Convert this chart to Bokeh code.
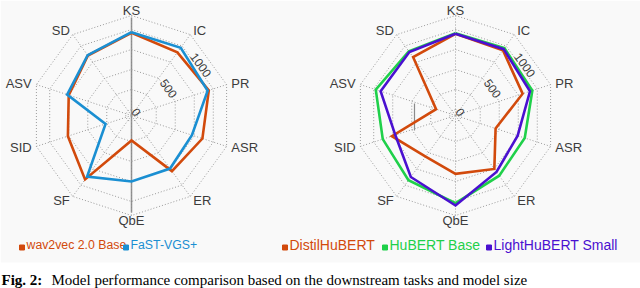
import numpy as np
from bokeh.plotting import figure
from bokeh.models import Range1d
from bokeh.embed import file_html
from bokeh.resources import INLINE
from bokeh.core.properties import value

# ---------------- data ----------------
tasks = ["KS", "IC", "PR", "ASR", "ER", "QbE", "SF", "SID", "ASV", "SD"]
wav2vec2_base = [959, 900, 941, 857, 785, 237, 913, 761, 750, 852]
fast_vgs_plus = [966, 972, 926, 719, 745, 750, 869, 266, 771, 857]
distilhubert = [946, 933, 807, 452, 751, 654, 560, 761, 180, 826]
hubert_base = [954, 966, 935, 835, 855, 1021, 925, 881, 973, 918]
lighthubert_small = [946, 950, 904, 742, 797, 1050, 875, 716, 909, 906]
ring_values = [0, 250, 500, 750, 1000, 1175]
tick_values = [0, 500, 1000]
tick_labels = ["0", "500", "1000"]
left_names = ["wav2vec 2.0 Base", "FaST-VGS+"]
right_names = ["DistilHuBERT", "HuBERT Base", "LightHuBERT Small"]

C_ORANGE = "#d24a0c"
C_BLUE = "#1a8fd2"
C_GREEN = "#1fd04a"
C_PURPLE = "#4a10d0"
TXT = "#3c3c3c"
GRID = "#9a9a9a"

W, H = 640, 288
p = figure(width=W, height=H, x_range=Range1d(0, W), y_range=Range1d(0, H),
           output_backend="svg", toolbar_location=None, min_border=0)
p.axis.visible = False
p.grid.visible = False
p.outline_line_color = None
p.background_fill_color = "white"
p.border_fill_color = "white"

def Y(py):
    return H - py

# light gray panel behind the charts
p.quad(left=0, right=W, top=Y(0), bottom=Y(262), fill_color="#f9f9f9", line_color=None)

R0, K = 6.0, 0.08
R_OUT = 100.0
R_LAB = 105.0
n = len(tasks)
theta = np.deg2rad(90 - 36 * np.arange(n))

def rad(v):
    return R0 + K * np.asarray(v, dtype=float)

def poly(cx, cy, vals):
    r = rad(vals)
    xs = cx + r * np.cos(theta)
    ys = Y(cy) + r * np.sin(theta)
    return list(xs) + [xs[0]], list(ys) + [ys[0]]

def radar(cx, cy, series, colors):
    for rv in ring_values:
        r = R0 + K * rv if rv < ring_values[-1] else R_OUT
        xs = cx + r * np.cos(theta)
        ys = Y(cy) + r * np.sin(theta)
        p.line(list(xs) + [xs[0]], list(ys) + [ys[0]], line_color=GRID,
               line_dash="1 2", line_width=1)
    for t in theta:
        p.line([cx, cx + R_OUT * np.cos(t)], [Y(cy), Y(cy) + R_OUT * np.sin(t)],
               line_color=GRID, line_dash="1 2", line_width=1)
    for lab, t in zip(tasks, theta):
        c, s = np.cos(t), np.sin(t)
        align = "left" if c > 0.2 else ("right" if c < -0.2 else "center")
        p.text([cx + R_LAB * c], [Y(cy) + R_LAB * s], text=[lab], text_align=align,
               text_baseline="middle", text_font=value("Liberation Sans"),
               text_font_size="13px", text_color=TXT)
    ta = np.deg2rad(36)
    for tv, tl in zip(tick_values, tick_labels):
        r = R0 + K * tv
        p.text([cx + r * np.cos(ta)], [Y(cy) + r * np.sin(ta)], text=[tl],
               angle=np.deg2rad(-54), text_align="center", text_baseline="middle",
               text_font=value("Liberation Sans"), text_font_size="12px", text_color=TXT)
    for vals, col in zip(series, colors):
        xs, ys = poly(cx, cy, vals)
        p.line(xs, ys, line_color=col, line_width=2.6, line_join="miter")

LCX, RCX, CY = 131, 455, 115
p.line([LCX, LCX], [Y(17), Y(212)], line_color="#8a8a8a", line_width=1.5)
p.line([414, 414], [Y(103), Y(130)], line_color="#8a8a8a", line_width=1.2)

radar(LCX, CY, [wav2vec2_base, fast_vgs_plus], [C_ORANGE, C_BLUE])
radar(RCX, CY, [distilhubert, hubert_base, lighthubert_small], [C_ORANGE, C_GREEN, C_PURPLE])

def legend(items, x0s, colors, ly, fs):
    for name, x0, col in zip(items, x0s, colors):
        p.scatter([x0 + 2.5], [Y(ly) - 3], marker="square", size=5, fill_color=col,
                  line_color=col)
        p.text([x0 + 7], [Y(ly)], text=[name], text_align="left", text_baseline="middle",
               text_font=value("Liberation Sans"), text_font_size=fs, text_color=col)

LY = 244
legend(left_names, [19, 123], [C_ORANGE, C_BLUE], LY, "12.3px")
legend(right_names, [282, 382, 486], [C_ORANGE, C_GREEN, C_PURPLE], LY, "14px")

CAP_Y = 279
p.text([1], [Y(CAP_Y)], text=["Fig. 2:"], text_align="left", text_baseline="middle",
       text_font=value("Liberation Serif"), text_font_style="bold",
       text_font_size="15px", text_color="black")
p.text([51], [Y(CAP_Y)], text=["Model performance comparison based on the downstream tasks and model size"],
       text_align="left", text_baseline="middle", text_font=value("Liberation Serif"),
       text_font_size="15px", text_color="black")

open("out.html", "w").write(file_html(p, INLINE))
